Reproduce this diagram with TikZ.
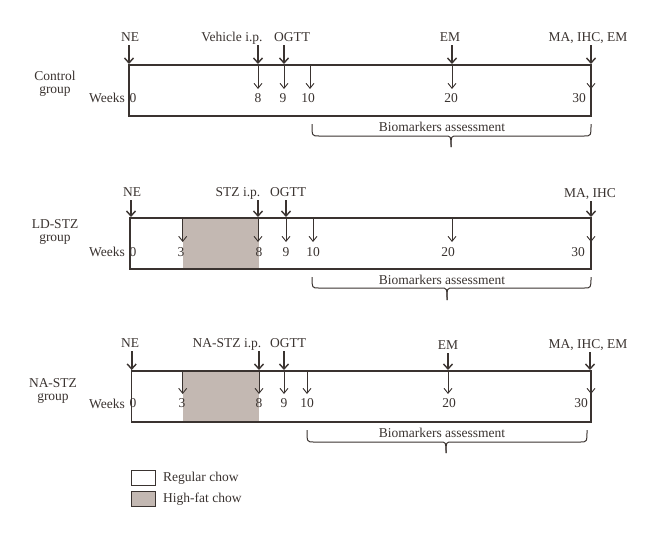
\documentclass[tikz,border=0pt]{standalone}
\usepackage{fontspec}
\setmainfont{Liberation Serif}
\usetikzlibrary{arrows.meta}
\definecolor{ink}{HTML}{3A3330}
\definecolor{fat}{HTML}{C3B8B2}
\begin{document}
\begin{tikzpicture}[x=1pt,y=-1pt,
 every node/.style={text=ink, font=\fontsize{13.5}{13}\selectfont, inner sep=1pt, text height=9.5pt, text depth=3pt},
 grouplabel/.style={align=center, text height=, text depth=},
 frame/.style={draw=ink, line width=1.1pt},
 bigarrow/.style={draw=ink, line width=1.6pt, -{Straight Barb[length=5pt,width=9pt,line width=1.4pt]}},
 smallarrow/.style={draw=ink, line width=0.9pt, -{Straight Barb[length=5pt,width=8pt,line width=0.9pt]}},
 bracepath/.style={draw=ink, line width=1pt},
 legbox/.style={draw=ink, line width=1pt}]
\useasboundingbox (0,0) rectangle (660,538);

% ================= Control group =================
\draw[frame] (129,65) rectangle (591,116);
\node[grouplabel] (cgrp) at (55,84) {Control\\group};
\node (cweeks) at (107,99) {Weeks};
\node (cNE) at (130,38) {NE};
\node (cVeh) at (232,38) {Vehicle i.p.};
\node (cOG) at (292,38) {OGTT};
\node (cEM) at (450,38) {EM};
\node (cMA) at (588,38) {MA, IHC, EM};
\coordinate (cA0) at (129,64);
\coordinate (cA8) at (258,64);
\coordinate (cA9) at (284,64);
\coordinate (cA20) at (452,64);
\coordinate (cA30) at (591,64);
\draw[bigarrow] (cNE.south -| cA0) -- (cA0);
\draw[bigarrow] (cVeh.south -| cA8) -- (cA8);
\draw[bigarrow] (cOG.south -| cA9) -- (cA9);
\draw[bigarrow] (cEM.south -| cA20) -- (cA20);
\draw[bigarrow] (cMA.south -| cA30) -- (cA30);
\node (cw0) at (133,99) {0};
\node (cw8) at (258,99) {8};
\node (cw9) at (283,99) {9};
\node (cw10) at (308,99) {10};
\node (cw20) at (451,99) {20};
\node (cw30) at (579,99) {30};
\coordinate (cT8) at (258,65);  \coordinate (cB8) at (258,89);
\coordinate (cT9) at (284,65);  \coordinate (cB9) at (284,89);
\coordinate (cT10) at (310,65); \coordinate (cB10) at (310,89);
\coordinate (cT20) at (452,65); \coordinate (cB20) at (452,89);
\coordinate (cT30) at (591,65); \coordinate (cB30) at (591,89);
\draw[smallarrow] (cT8) -- (cB8);
\draw[smallarrow] (cT9) -- (cB9);
\draw[smallarrow] (cT10) -- (cB10);
\draw[smallarrow] (cT20) -- (cB20);
\draw[smallarrow] (cT30) -- (cB30);
\draw[bracepath] (312,124) .. controls (312,136) .. (319,136) -- (445,136) .. controls (451,136) .. (451,147);
\draw[bracepath] (591,124) .. controls (591,136) .. (584,136) -- (457,136) .. controls (451,136) .. (451,147);
\node (cbio) at (442,128) {Biomarkers assessment};

% ================= LD-STZ group =================
\fill[fat] (182.7,218) rectangle (259.3,269);
\draw[frame] (130,218) rectangle (591,269);
\node[grouplabel] (lgrp) at (55,232) {LD-STZ\\group};
\node (lweeks) at (107,253) {Weeks};
\node (lNE) at (132,193) {NE};
\node (lSTZ) at (238,193) {STZ i.p.};
\node (lOG) at (288,193) {OGTT};
\node (lMA) at (590,194) {MA, IHC};
\coordinate (lA0) at (131,217);
\coordinate (lA8) at (258,217);
\coordinate (lA9) at (286,217);
\coordinate (lA30) at (591,217);
\draw[bigarrow] (lNE.south -| lA0) -- (lA0);
\draw[bigarrow] (lSTZ.south -| lA8) -- (lA8);
\draw[bigarrow] (lOG.south -| lA9) -- (lA9);
\draw[bigarrow] (lMA.south -| lA30) -- (lA30);
\node (lw0) at (133,253) {0};
\node (lw3) at (181,253) {3};
\node (lw8) at (259,253) {8};
\node (lw9) at (286,253) {9};
\node (lw10) at (313,253) {10};
\node (lw20) at (448,253) {20};
\node (lw30) at (578,253) {30};
\coordinate (lT3) at (182.7,218); \coordinate (lB3) at (182.7,242);
\coordinate (lT8) at (258,218);   \coordinate (lB8) at (258,242);
\coordinate (lT9) at (286,218);   \coordinate (lB9) at (286,242);
\coordinate (lT10) at (313,218);  \coordinate (lB10) at (313,242);
\coordinate (lT20) at (452,218);  \coordinate (lB20) at (452,242);
\coordinate (lT30) at (591,218);  \coordinate (lB30) at (591,242);
\draw[smallarrow] (lT3) -- (lB3);
\draw[smallarrow] (lT8) -- (lB8);
\draw[smallarrow] (lT9) -- (lB9);
\draw[smallarrow] (lT10) -- (lB10);
\draw[smallarrow] (lT20) -- (lB20);
\draw[smallarrow] (lT30) -- (lB30);
\draw[bracepath] (312,277) .. controls (312,288) .. (319,288) -- (441,288) .. controls (447,288) .. (447,300);
\draw[bracepath] (591,277) .. controls (591,288) .. (584,288) -- (453,288) .. controls (447,288) .. (447,300);
\node (lbio) at (442,281) {Biomarkers assessment};

% ================= NA-STZ group =================
\fill[fat] (182.7,371) rectangle (259.3,422);
\draw[frame] (131.7,371) rectangle (591,422);
\node[grouplabel] (ngrp) at (53,391) {NA-STZ\\group};
\node (nweeks) at (107,405) {Weeks};
\node (nNE) at (130,344) {NE};
\node (nSTZ) at (227,344) {NA-STZ i.p.};
\node (nOG) at (288,344) {OGTT};
\node (nEM) at (448,346) {EM};
\node (nMA) at (588,345) {MA, IHC, EM};
\coordinate (nA0) at (131.7,370);
\coordinate (nA8) at (259,370);
\coordinate (nA9) at (284,370);
\coordinate (nA20) at (448,370);
\coordinate (nA30) at (590,370);
\draw[bigarrow] (nNE.south -| nA0) -- (nA0);
\draw[bigarrow] (nSTZ.south -| nA8) -- (nA8);
\draw[bigarrow] (nOG.south -| nA9) -- (nA9);
\draw[bigarrow] (nEM.south -| nA20) -- (nA20);
\draw[bigarrow] (nMA.south -| nA30) -- (nA30);
\node (nw0) at (133,404) {0};
\node (nw3) at (182,404) {3};
\node (nw8) at (259,404) {8};
\node (nw9) at (284,404) {9};
\node (nw10) at (307,404) {10};
\node (nw20) at (449,404) {20};
\node (nw30) at (581,404) {30};
\coordinate (nT3) at (182.7,371); \coordinate (nB3) at (182.7,394);
\coordinate (nT8) at (259,371);   \coordinate (nB8) at (259,394);
\coordinate (nT9) at (284,371);   \coordinate (nB9) at (284,394);
\coordinate (nT10) at (307,371);  \coordinate (nB10) at (307,394);
\coordinate (nT20) at (448,371);  \coordinate (nB20) at (448,394);
\coordinate (nT30) at (591,371);  \coordinate (nB30) at (591,394);
\draw[smallarrow] (nT3) -- (nB3);
\draw[smallarrow] (nT8) -- (nB8);
\draw[smallarrow] (nT9) -- (nB9);
\draw[smallarrow] (nT10) -- (nB10);
\draw[smallarrow] (nT20) -- (nB20);
\draw[smallarrow] (nT30) -- (nB30);
\draw[bracepath] (307,430) .. controls (307,442) .. (314,442) -- (440,442) .. controls (446,442) .. (446,453);
\draw[bracepath] (587,430) .. controls (587,442) .. (580,442) -- (452,442) .. controls (446,442) .. (446,453);
\node (nbio) at (442,434) {Biomarkers assessment};

% ================= Legend =================
\draw[legbox, fill=white] (131,470) rectangle (155,485);
\draw[legbox, fill=fat] (131,491) rectangle (155,506);
\node[anchor=west] (lgreg) at (162,478) {Regular chow};
\node[anchor=west] (lgfat) at (162,499) {High-fat chow};
\end{tikzpicture}
\end{document}
